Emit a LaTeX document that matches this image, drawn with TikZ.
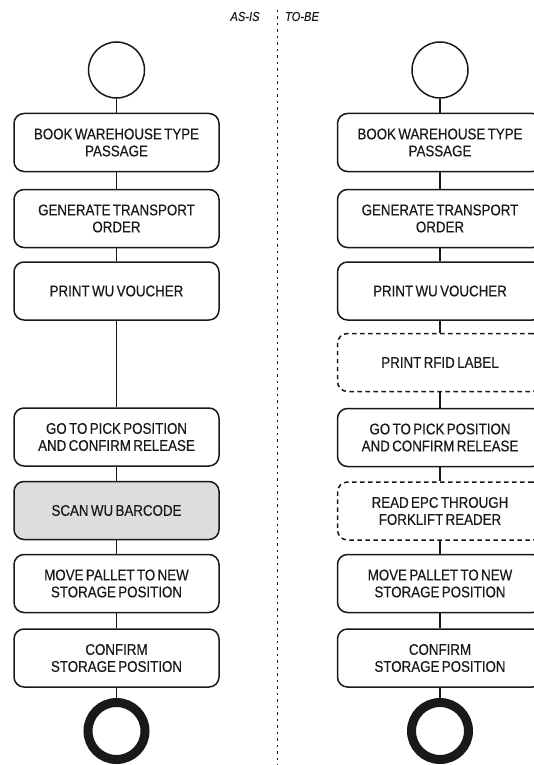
\documentclass[tikz,border=0pt]{standalone}
\usepackage{fontspec}
\setmainfont{Liberation Sans}[FakeStretch=0.86, FakeBold=0.4, WordSpace=0.65]
\definecolor{ink}{RGB}{25,25,25}
\definecolor{scanfill}{RGB}{220,221,223}
\begin{document}
\begin{tikzpicture}[x=1pt,y=-1pt,
  every node/.style={text=ink},
  stepbox/.style={draw=ink, line width=1.5pt, rounded corners=10pt,
    minimum width=205pt, minimum height=58pt, align=center,
    font=\fontsize{15.5pt}{17pt}\selectfont, inner sep=0pt},
  optbox/.style={stepbox, dashed, dash pattern=on 4.5pt off 3.5pt},
  grey/.style={fill=scanfill},
  startnode/.style={draw=ink, circle, line width=1.5pt, minimum size=56pt, inner sep=0pt},
  endnode/.style={draw=ink, circle, line width=9pt, minimum size=57pt, inner sep=0pt},
  link/.style={draw=ink, line width=1.5pt},
  header/.style={font=\fontsize{13pt}{14pt}\selectfont\itshape}]
\useasboundingbox (0,0) rectangle (534,765);

% column headings and divider
\node[header] (asis) at (245,16.5) {AS-IS};
\node[header] (tobe) at (302,16.5) {TO-BE};
\coordinate (divtop) at (277.5,10);
\coordinate (divbot) at (277.5,765);
\draw[ink, line width=1.8pt, dash pattern=on 2.5pt off 4pt] (divtop) -- (divbot);

% current process
\node[startnode] (ls) at (116.5,70) {};
\node[stepbox] (l1) at (116.5,142.5) {BOOK WAREHOUSE TYPE\\PASSAGE};
\node[stepbox] (l2) at (116.5,218.5) {GENERATE TRANSPORT\\ORDER};
\node[stepbox] (l3) at (116.5,291) {PRINT WU VOUCHER};
\node[stepbox] (l4) at (116.5,437) {GO TO PICK POSITION\\AND CONFIRM RELEASE};
\node[stepbox, grey] (l5) at (116.5,510.5) {SCAN WU BARCODE};
\node[stepbox] (l6) at (116.5,583.5) {MOVE PALLET TO NEW\\STORAGE POSITION};
\node[stepbox] (l7) at (116.5,658) {CONFIRM\\STORAGE POSITION};
\node[endnode] (le) at (116.5,731) {};
\foreach \a/\b in {ls/l1,l1/l2,l2/l3,l3/l4,l4/l5,l5/l6,l6/l7,l7/le}
  \draw[link] (\a) -- (\b);

% future process
\node[startnode] (rs) at (440,70) {};
\node[stepbox] (r1) at (440,142.5) {BOOK WAREHOUSE TYPE\\PASSAGE};
\node[stepbox] (r2) at (440,218.5) {GENERATE TRANSPORT\\ORDER};
\node[stepbox] (r3) at (440,291) {PRINT WU VOUCHER};
\node[optbox] (r4) at (440,362.5) {PRINT RFID LABEL};
\node[stepbox] (r5) at (440,437.5) {GO TO PICK POSITION\\AND CONFIRM RELEASE};
\node[optbox] (r6) at (440,511) {READ EPC THROUGH\\FORKLIFT READER};
\node[stepbox] (r7) at (440,583.5) {MOVE PALLET TO NEW\\STORAGE POSITION};
\node[stepbox] (r8) at (440,658) {CONFIRM\\STORAGE POSITION};
\node[endnode] (re) at (440,731) {};
\foreach \a/\b in {rs/r1,r1/r2,r2/r3,r3/r4,r4/r5,r5/r6,r6/r7,r7/r8,r8/re}
  \draw[link] (\a) -- (\b);
\end{tikzpicture}
\end{document}
